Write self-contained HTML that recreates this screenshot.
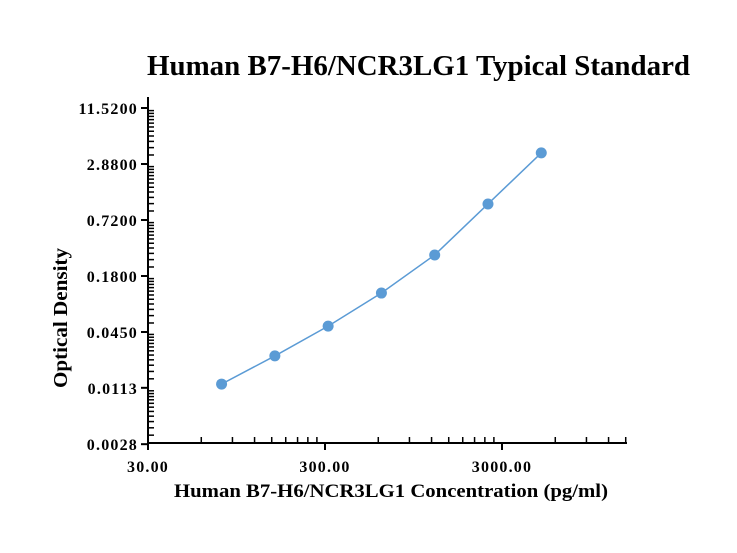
<!DOCTYPE html>
<html><head><meta charset="utf-8"><style>
body{margin:0;background:#fff;}
svg{display:block;font-family:"Liberation Serif",serif;font-weight:bold;}
</style></head><body>
<svg id="chart" width="737" height="553" viewBox="0 0 737 553">
<text x="147" y="75" textLength="543" lengthAdjust="spacingAndGlyphs" font-size="28">Human B7-H6/NCR3LG1 Typical Standard</text>
<text x="174" y="497" textLength="434" lengthAdjust="spacingAndGlyphs" font-size="19">Human B7-H6/NCR3LG1 Concentration (pg/ml)</text>
<text transform="translate(67,318) rotate(-90)" text-anchor="middle" textLength="140" lengthAdjust="spacingAndGlyphs" font-size="20">Optical Density</text>
<g id="axes"></g>
<g id="series"></g>
</svg>
<script>
const xTickLabels=["30.00","300.00","3000.00"];
const xTickValues=[30,300,3000];
const yTickLabels=["11.5200","2.8800","0.7200","0.1800","0.0450","0.0113","0.0028"];
const yTickValues=[11.52,2.88,0.72,0.18,0.045,0.0113,0.0028];
const concentrations=[78.125,156.25,312.5,625,1250,2500,5000];
const odValues=[0.0124,0.0249,0.052,0.118,0.303,1.071,3.79];
const NS="http://www.w3.org/2000/svg";
function X(v){return 148+177*Math.log10(v/30);}
function Y(v){return 108+56*Math.log(11.52/v)/Math.log(4);}
function mk(tag,attrs,parent){const e=document.createElementNS(NS,tag);for(const k in attrs)e.setAttribute(k,attrs[k]);parent.appendChild(e);return e;}
const axes=document.getElementById('axes');
let l;
l=mk('line',{x1:148,y1:443,x2:627,y2:443,stroke:'#000','stroke-width':2},axes);


l=mk('line',{x1:148,y1:97,x2:148,y2:444,stroke:'#000','stroke-width':2},axes);


xTickValues.forEach((v,i)=>{
  const t=mk('line',{x1:X(v),y1:443,x2:X(v),y2:450,stroke:'#000','stroke-width':2},axes);
  
  
  const tx=mk('text',{x:X(v),y:472,'text-anchor':'middle','font-size':16,'letter-spacing':1.2},axes);
  tx.textContent=xTickLabels[i];
  
  
  for(let k=2;k<10;k++){const mv=v*k;const mx=X(mv);if(mx>627)break;
    const m=mk('line',{x1:mx,y1:443,x2:mx,y2:437,stroke:'#000','stroke-width':1.5},axes);
    
    }
});
yTickValues.forEach((v,i)=>{
  const t=mk('line',{x1:141,y1:Y(v),x2:148,y2:Y(v),stroke:'#000','stroke-width':2},axes);
  
  
  const tx=mk('text',{x:138,y:Y(v)+6,'text-anchor':'end','font-size':16,'letter-spacing':1.2},axes);
  tx.textContent=yTickLabels[i];
  
  
  if(i>0){const lo=v;for(let k=5;k<16;k++){const mv=lo*k/4;
    const m=mk('line',{x1:148,y1:Y(mv),x2:154,y2:Y(mv),stroke:'#000','stroke-width':1.5},axes);
    
    }}
});
const s=document.getElementById('series');
const pts=concentrations.map((c,i)=>X(c)+','+Y(odValues[i])).join(' ');
const pl=mk('polyline',{points:pts,fill:'none',stroke:'#5b9bd5','stroke-width':1.5},s);


concentrations.forEach((c,i)=>{
  const p=mk('circle',{cx:X(c),cy:Y(odValues[i]),r:5.5,fill:'#5b9bd5'},s);
  
  
});
</script>
</body></html>
